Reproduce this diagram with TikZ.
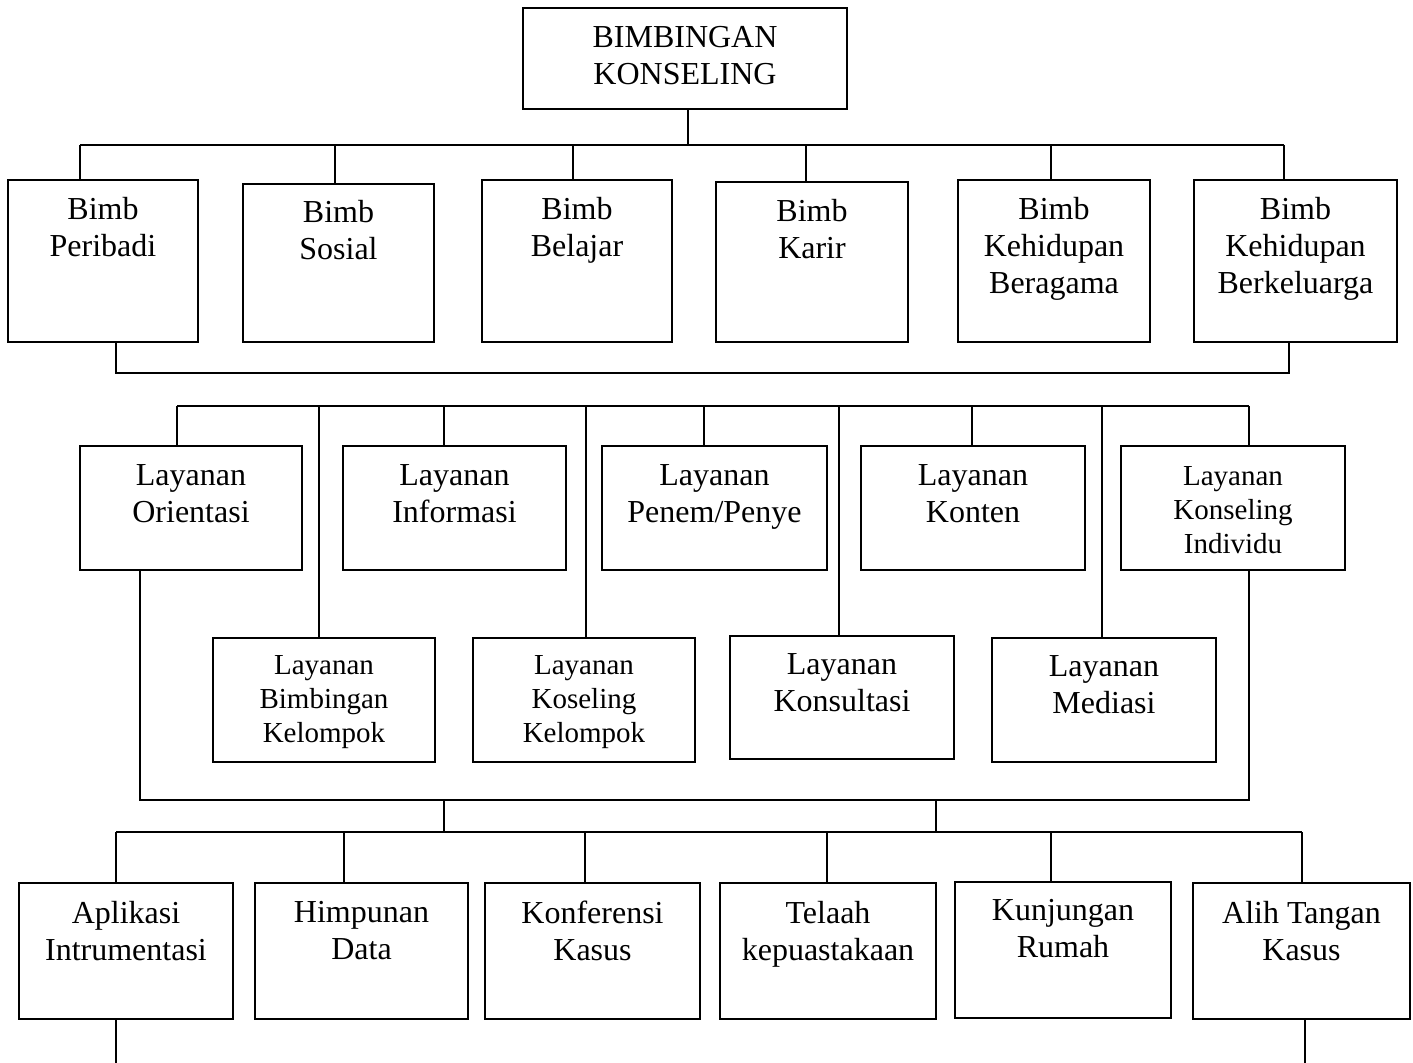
\documentclass[tikz,border=0pt]{standalone}
\usepackage{fontspec}
\setmainfont{Liberation Serif}
\usetikzlibrary{positioning}
\tikzset{
  box/.style={draw, line width=1.2pt, inner sep=0pt},
  txt/.style={inner sep=0pt, align=center, font={\fontsize{16}{18.5}\selectfont}},
  smalltxt/.style={inner sep=0pt, align=center, font={\fontsize{14.5}{17}\selectfont}},
  link/.style={line width=1pt}
}
\begin{document}
\begin{tikzpicture}[x=0.5pt,y=-0.5pt]
    \useasboundingbox (0,0) rectangle (1413,1063);

    % puncak
    \node[box, minimum width=162pt, minimum height=50.5pt] (bk) at (685,58.5) {};
    \node[txt, below=9.5pt of bk.north] (bk-t) {BIMBINGAN\\KONSELING};

    % bidang bimbingan
    \node[box, minimum width=95pt, minimum height=81pt] (peribadi) at (103,261) {};
    \node[box, minimum width=95.5pt, minimum height=79pt] (sosial) at (338.5,263) {};
    \node[box, minimum width=95pt, minimum height=81pt] (belajar) at (577,261) {};
    \node[box, minimum width=96pt, minimum height=80pt] (karir) at (812,262) {};
    \node[box, minimum width=96pt, minimum height=81pt] (beragama) at (1054,261) {};
    \node[box, minimum width=101.5pt, minimum height=81pt] (berkeluarga) at (1295.5,261) {};

    \node[txt, below=9pt of peribadi.north] (peribadi-t) {Bimb\\Peribadi};
    \node[txt, below=8.5pt of sosial.north] (sosial-t) {Bimb\\Sosial};
    \node[txt, below=9pt of belajar.north] (belajar-t) {Bimb\\Belajar};
    \node[txt, below=9pt of karir.north] (karir-t) {Bimb\\Karir};
    \node[txt, below=9pt of beragama.north] (beragama-t) {Bimb\\Kehidupan\\Beragama};
    \node[txt, below=9pt of berkeluarga.north] (berkeluarga-t) {Bimb\\Kehidupan\\Berkeluarga};

    % layanan atas
    \node[box, minimum width=111pt, minimum height=62pt] (orientasi) at (191,508) {};
    \node[box, minimum width=111.5pt, minimum height=62pt] (informasi) at (454.5,508) {};
    \node[box, minimum width=112.5pt, minimum height=62pt] (penem) at (714.5,508) {};
    \node[box, minimum width=112pt, minimum height=62pt] (konten) at (973,508) {};
    \node[box, minimum width=112pt, minimum height=62pt] (individu) at (1233,508) {};

    \node[txt, below=9.5pt of orientasi.north] (orientasi-t) {Layanan\\Orientasi};
    \node[txt, below=9.5pt of informasi.north] (informasi-t) {Layanan\\Informasi};
    \node[txt, below=9.5pt of penem.north] (penem-t) {Layanan\\Penem/Penye};
    \node[txt, below=9.5pt of konten.north] (konten-t) {Layanan\\Konten};
    \node[smalltxt, below=10.5pt of individu.north] (individu-t) {Layanan\\Konseling\\Individu};

    % layanan bawah
    \node[box, minimum width=111pt, minimum height=62pt] (bimkel) at (324,700) {};
    \node[box, minimum width=111pt, minimum height=62pt] (koskel) at (584,700) {};
    \node[box, minimum width=112pt, minimum height=61.5pt] (konsultasi) at (842,697.5) {};
    \node[box, minimum width=112pt, minimum height=62pt] (mediasi) at (1104,700) {};

    \node[smalltxt, below=9pt of bimkel.north] (bimkel-t) {Layanan\\Bimbingan\\Kelompok};
    \node[smalltxt, below=9pt of koskel.north] (koskel-t) {Layanan\\Koseling\\Kelompok};
    \node[txt, below=9pt of konsultasi.north] (konsultasi-t) {Layanan\\Konsultasi};
    \node[txt, below=9pt of mediasi.north] (mediasi-t) {Layanan\\Mediasi};

    % kegiatan pendukung
    \node[box, minimum width=107pt, minimum height=68pt] (aplikasi) at (126,951) {};
    \node[box, minimum width=106.5pt, minimum height=68pt] (himpunan) at (361.5,951) {};
    \node[box, minimum width=107.5pt, minimum height=68pt] (konferensi) at (592.5,951) {};
    \node[box, minimum width=108pt, minimum height=68pt] (telaah) at (828,951) {};
    \node[box, minimum width=108pt, minimum height=68pt] (kunjungan) at (1063,950) {};
    \node[box, minimum width=108.5pt, minimum height=68pt] (alih) at (1301.5,951) {};

    \node[txt, below=9.5pt of aplikasi.north] (aplikasi-t) {Aplikasi\\Intrumentasi};
    \node[txt, below=9.5pt of himpunan.north] (himpunan-t) {Himpunan\\Data};
    \node[txt, below=9.5pt of konferensi.north] (konferensi-t) {Konferensi\\Kasus};
    \node[txt, below=9.5pt of telaah.north] (telaah-t) {Telaah\\kepuastakaan};
    \node[txt, below=9pt of kunjungan.north] (kunjungan-t) {Kunjungan\\Rumah};
    \node[txt, below=9.5pt of alih.north] (alih-t) {Alih Tangan\\Kasus};

    % garis ke bidang bimbingan
    \coordinate (a0) at (688,145);
    \coordinate (a1) at (80,145);
    \coordinate (a2) at (335,145);
    \coordinate (a3) at (573,145);
    \coordinate (a4) at (806,145);
    \coordinate (a5) at (1051,145);
    \coordinate (a6) at (1284,145);
    \draw[link] (bk.south -| a0) -- (a0);
    \draw[link] (a1) -- (a6);
    \draw[link] (a1) -- (a1 |- peribadi.north);
    \draw[link] (a2) -- (a2 |- sosial.north);
    \draw[link] (a3) -- (a3 |- belajar.north);
    \draw[link] (a4) -- (a4 |- karir.north);
    \draw[link] (a5) -- (a5 |- beragama.north);
    \draw[link] (a6) -- (a6 |- berkeluarga.north);

    \coordinate (b1) at (116,373);
    \coordinate (b2) at (1289,373);
    \draw[link] (peribadi.south -| b1) -- (b1) -- (b2) -- (b2 |- berkeluarga.south);

    % garis ke layanan
    \coordinate (c1) at (177,406);
    \coordinate (c2) at (319,406);
    \coordinate (c3) at (444,406);
    \coordinate (c4) at (586,406);
    \coordinate (c5) at (704,406);
    \coordinate (c6) at (839,406);
    \coordinate (c7) at (972,406);
    \coordinate (c8) at (1102,406);
    \coordinate (c9) at (1249,406);
    \draw[link] (c1) -- (c9);
    \draw[link] (c1) -- (c1 |- orientasi.north);
    \draw[link] (c2) -- (c2 |- bimkel.north);
    \draw[link] (c3) -- (c3 |- informasi.north);
    \draw[link] (c4) -- (c4 |- koskel.north);
    \draw[link] (c5) -- (c5 |- penem.north);
    \draw[link] (c6) -- (c6 |- konsultasi.north);
    \draw[link] (c7) -- (c7 |- konten.north);
    \draw[link] (c8) -- (c8 |- mediasi.north);
    \draw[link] (c9) -- (c9 |- individu.north);

    \coordinate (d1) at (140,800);
    \coordinate (d2) at (1249,800);
    \coordinate (d3) at (444,800);
    \coordinate (d4) at (936,800);
    \draw[link] (orientasi.south -| d1) -- (d1) -- (d2) -- (d2 |- individu.south);

    % garis ke kegiatan pendukung
    \coordinate (e1) at (116,832);
    \coordinate (e2) at (344,832);
    \coordinate (e3) at (585,832);
    \coordinate (e4) at (827,832);
    \coordinate (e5) at (1051,832);
    \coordinate (e6) at (1302,832);
    \draw[link] (d3) -- (d3 |- e1);
    \draw[link] (d4) -- (d4 |- e1);
    \draw[link] (e1) -- (e6);
    \draw[link] (e1) -- (e1 |- aplikasi.north);
    \draw[link] (e2) -- (e2 |- himpunan.north);
    \draw[link] (e3) -- (e3 |- konferensi.north);
    \draw[link] (e4) -- (e4 |- telaah.north);
    \draw[link] (e5) -- (e5 |- kunjungan.north);
    \draw[link] (e6) -- (e6 |- alih.north);

    \coordinate (f1) at (116,1063);
    \coordinate (f2) at (1305,1063);
    \draw[link] (aplikasi.south -| f1) -- (f1);
    \draw[link] (alih.south -| f2) -- (f2);
\end{tikzpicture}
\end{document}
